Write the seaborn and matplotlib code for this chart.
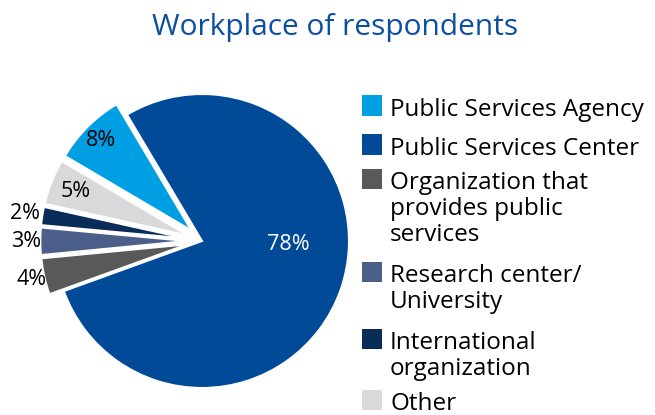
import matplotlib
matplotlib.use("Agg")
import numpy as np
import matplotlib.pyplot as plt
from matplotlib.patches import Rectangle
import seaborn as sns

# Survey data: workplace of respondents (share, %)
categories = [
    "Public Services Agency",
    "Public Services Center",
    "Organization that\nprovides public\nservices",
    "Research center/\nUniversity",
    "International\norganization",
    "Other",
]
shares = [8, 78, 4, 3, 2, 5]
colors = ["#009FE3", "#004A98", "#595959", "#4C5F8A", "#0A2C59", "#D9D9DB"]

sns.set_theme(style="white")
plt.rcParams["font.family"] = ["Open Sans", "DejaVu Sans"]

W, H = 655, 415
fig = plt.figure(figsize=(W / 100, H / 100), dpi=100)
fig.patch.set_facecolor("white")

# pie geometry (pixels)
R_PX = 147
CX, CY = 202, 241
half = 1.35
ax = fig.add_axes([(CX - half * R_PX) / W, (H - CY - half * R_PX) / H,
                   2 * half * R_PX / W, 2 * half * R_PX / H])

explode = [0.1, 0.0, 0.1, 0.1, 0.1, 0.1]
wedges, _ = ax.pie(shares, colors=colors, explode=explode, startangle=149.5,
                   counterclock=False,
                   wedgeprops=dict(edgecolor="white", linewidth=1.5))
ax.set_xlim(-half, half)
ax.set_ylim(-half, half)
ax.set_aspect("equal")
ax.axis("off")

# percentage labels placed along each wedge's middle direction
label_radius = [0.97, 0.59, 1.19, 1.195, 1.22, 0.925]
label_turn = [0.0, 17.5, 0.0, 0.0, 0.0, 0.0]
label_color = ["black", "white", "black", "black", "black", "black"]
for w, v, r, t, c in zip(wedges, shares, label_radius, label_turn, label_color):
    ang = np.deg2rad((w.theta1 + w.theta2) / 2 + t)
    ax.text(r * np.cos(ang), r * np.sin(ang), f"{v}%", ha="center", va="center",
            fontsize=15.5, color=c)

# title
fig.text(335 / W, 1 - 35 / H, "Workplace of respondents", ha="center",
         va="baseline", fontsize=21.5, color="#0B4EA2")

# legend: square aligned with the first text line, wrapped lines below
entry_baselines = [115.5, 154.5, 189, 282, 349, 410]
LINE = 26
for label, col, base in zip(categories, colors, entry_baselines):
    fig.add_artist(Rectangle((362 / W, (H - base) / H), 20 / W, 20 / H,
                             transform=fig.transFigure, facecolor=col,
                             edgecolor="none"))
    for k, line in enumerate(label.split("\n")):
        fig.text(390 / W, (H - base - k * LINE) / H, line, ha="left",
                 va="baseline", fontsize=17.5, color="black")

fig.savefig("out.png", dpi=100, facecolor="white")
